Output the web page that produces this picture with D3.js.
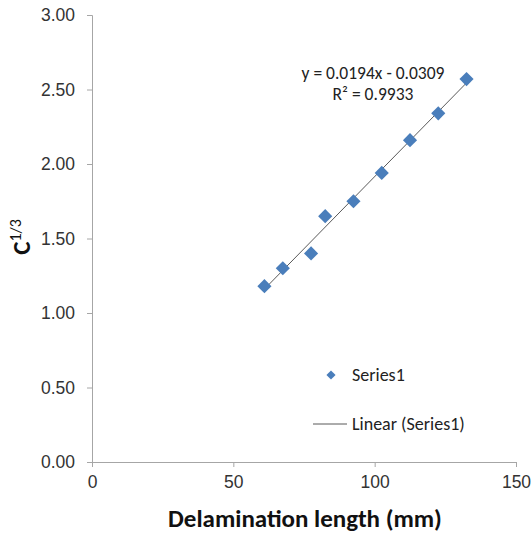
<!DOCTYPE html>
<html>
<head>
<meta charset="utf-8">
<script src="https://cdn.jsdelivr.net/npm/d3@7"></script>
<style>
  body { margin: 0; background: #fff; }
  svg { display: block; font-family: Carlito, Lato, "Open Sans", sans-serif; }
  .tick text { fill: #333; font-size: 17.5px; }
</style>
</head>
<body>
<svg id="chart" width="531" height="534"></svg>
<script>
// data
const lengths = [61, 67.5, 77.5, 82.5, 92.5, 102.5, 112.5, 122.5, 132.5];
const cubeRoots = [1.18, 1.30, 1.40, 1.65, 1.75, 1.94, 2.16, 2.34, 2.57];
const xTicks = [0, 50, 100, 150];
const yTicks = [0, 0.5, 1, 1.5, 2, 2.5, 3];
const equationLabel = 'y = 0.0194x - 0.0309';
const rSquaredLabel = 'R² = 0.9933';
const seriesName = 'Series1';

const width = 531;
const height = 534;
const margin = { top: 15, right: 15, bottom: 72, left: 92 };

const svg = d3.select('#chart');

const x = d3.scaleLinear().domain([0, 150]).range([margin.left, width - margin.right]);
const y = d3.scaleLinear().domain([0, 3]).range([height - margin.bottom, margin.top]);

const data = lengths.map((l, i) => ({ x: l, y: cubeRoots[i] }));

// axes
const xAxis = svg.append('g')
  .attr('transform', `translate(0,${y(0)})`)
  .call(d3.axisBottom(x).tickValues(xTicks).tickFormat(d3.format('d')).tickSize(5).tickPadding(9));

const yAxis = svg.append('g')
  .attr('transform', `translate(${x(0)},0)`)
  .call(d3.axisLeft(y).tickValues(yTicks).tickFormat(d3.format('.2f')).tickSize(5).tickPadding(12));

[xAxis, yAxis].forEach((g) => {
  g.select('.domain').attr('stroke', '#a6a6a6');
  g.selectAll('.tick line').attr('stroke', '#a6a6a6');
});

// linear trendline (least squares) across the data range
const mx = d3.mean(data, (d) => d.x);
const my = d3.mean(data, (d) => d.y);
const slope = d3.sum(data, (d) => (d.x - mx) * (d.y - my)) / d3.sum(data, (d) => (d.x - mx) ** 2);
const intercept = my - slope * mx;
const [x0, x1] = d3.extent(data, (d) => d.x);

svg.append('line')
  .attr('x1', x(x0)).attr('y1', y(slope * x0 + intercept))
  .attr('x2', x(x1)).attr('y2', y(slope * x1 + intercept))
  .attr('stroke', '#595959')
  .attr('stroke-width', 1);

// points
const diamond = d3.symbol(d3.symbolSquare, 100);
svg.append('g')
  .selectAll('path')
  .data(data)
  .join('path')
  .attr('d', diamond)
  .attr('transform', (d) => `translate(${x(d.x)},${y(d.y)}) rotate(45)`)
  .attr('fill', '#4a7ebb');

// equation
svg.append('text')
  .attr('x', 373).attr('y', 79)
  .attr('text-anchor', 'middle')
  .attr('font-size', 17.5)
  .attr('fill', '#222')
  .text(equationLabel);
svg.append('text')
  .attr('x', 373).attr('y', 100)
  .attr('text-anchor', 'middle')
  .attr('font-size', 17.5)
  .attr('fill', '#222')
  .text(rSquaredLabel);

// legend
const legend = svg.append('g');
legend.append('path')
  .attr('d', d3.symbol(d3.symbolSquare, 42))
  .attr('transform', 'translate(331,375) rotate(45)')
  .attr('fill', '#4a7ebb');
legend.append('text')
  .attr('x', 352).attr('y', 381)
  .attr('font-size', 18).attr('fill', '#222')
  .text(seriesName);
legend.append('line')
  .attr('x1', 313).attr('x2', 347)
  .attr('y1', 424).attr('y2', 424)
  .attr('stroke', '#595959');
legend.append('text')
  .attr('x', 352).attr('y', 430)
  .attr('font-size', 18).attr('fill', '#222')
  .text(`Linear (${seriesName})`);

// axis titles
svg.append('text')
  .attr('x', 305)
  .attr('y', 527)
  .attr('text-anchor', 'middle')
  .attr('font-size', 25)
  .attr('font-weight', 'bold')
  .attr('fill', '#111')
  .text('Delamination length (mm)');

const yTitle = svg.append('text')
  .attr('transform', 'translate(30,237) rotate(-90)')
  .attr('text-anchor', 'middle')
  .attr('font-size', 25)
  .attr('font-weight', 'bold')
  .attr('fill', '#111');
yTitle.append('tspan').text('C');
yTitle.append('tspan')
  .attr('dy', -9)
  .attr('font-size', 16)
  .attr('font-weight', 'normal')
  .text('1/3');
</script>
</body>
</html>
